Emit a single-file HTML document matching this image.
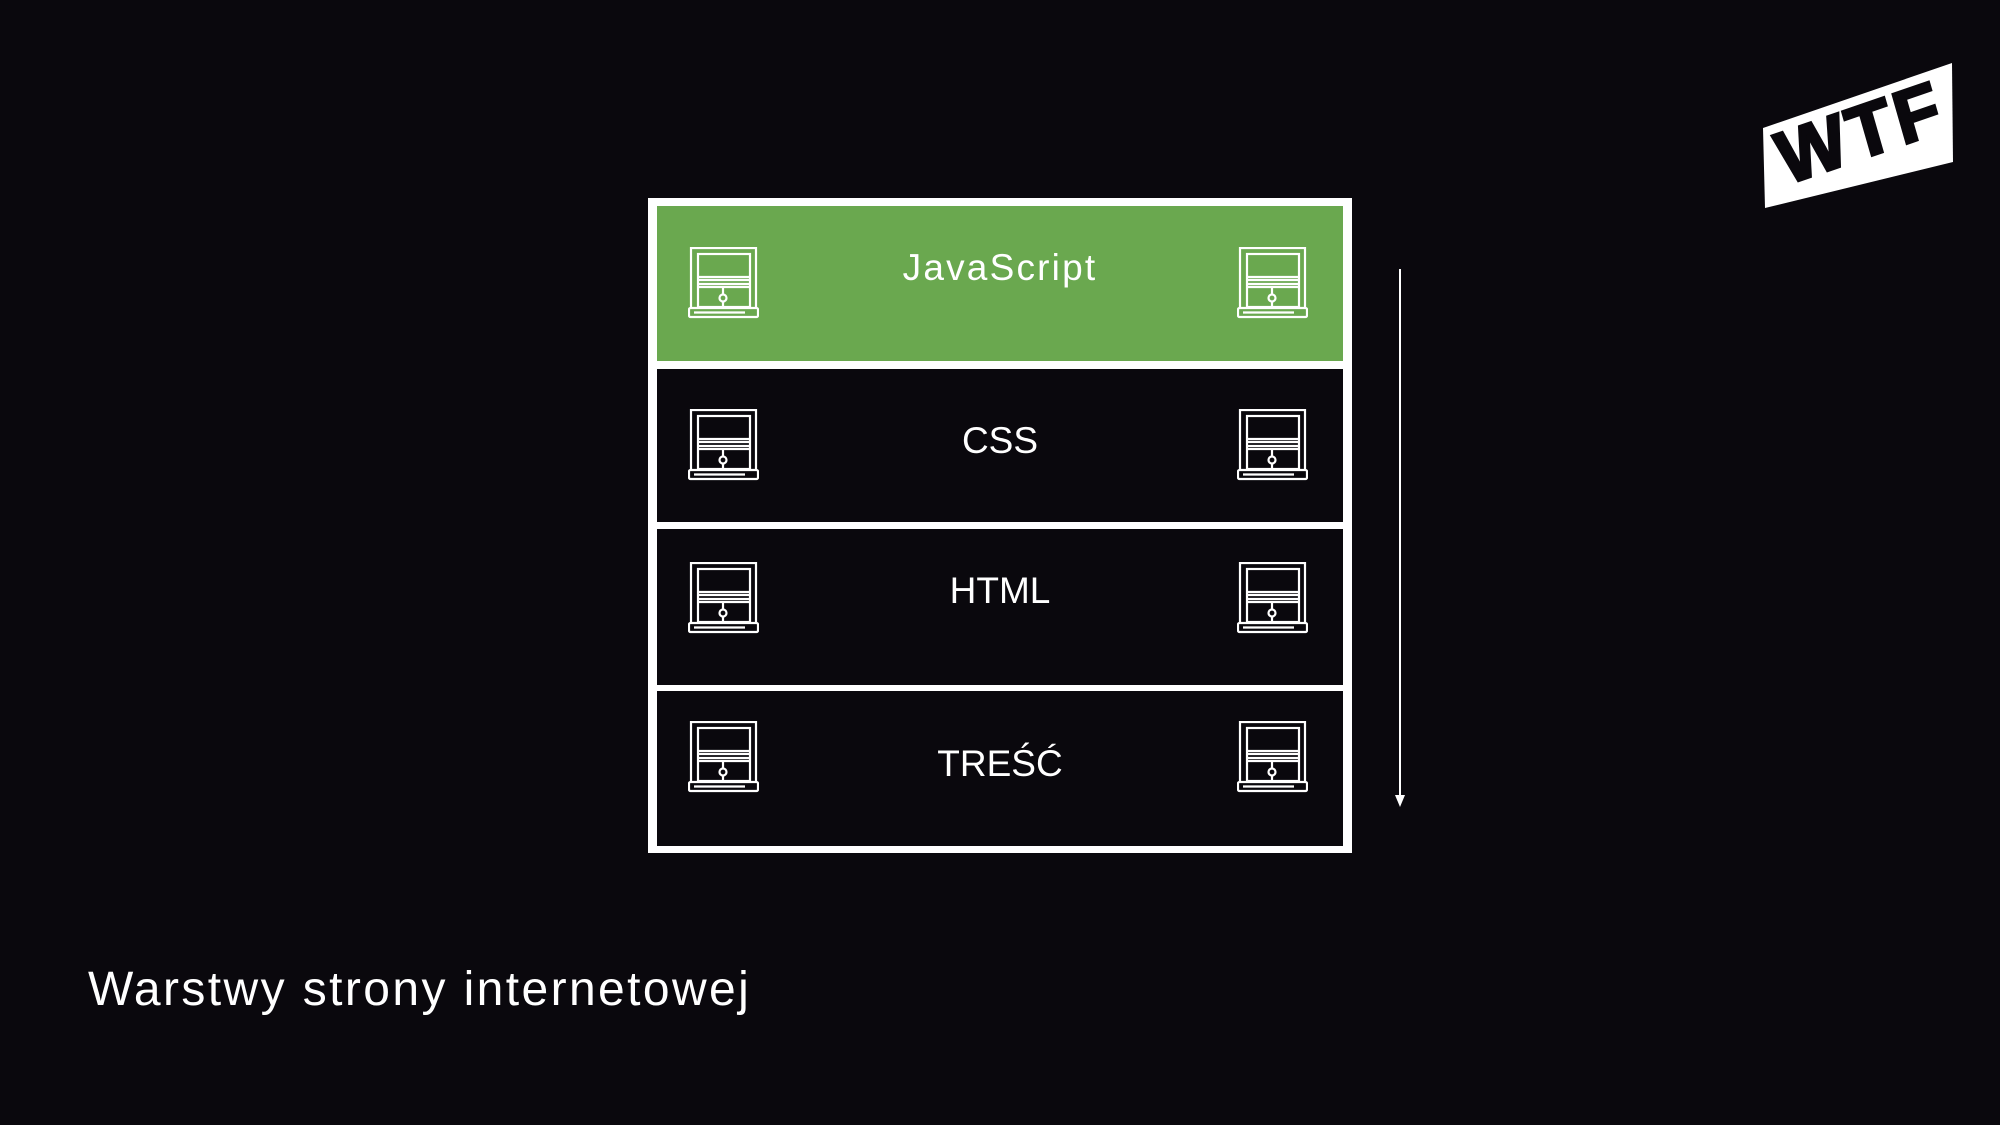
<!DOCTYPE html>
<html><head><meta charset="utf-8"><style>
html,body{margin:0;padding:0;background:#0a080d;}
body{width:2000px;height:1125px;position:relative;overflow:hidden;font-family:"Liberation Sans",sans-serif;color:#fff;}
.box{position:absolute;left:648px;top:198px;width:704px;height:655px;background:#fff;}
.row{position:absolute;left:9px;width:686px;background:#0a080d;}
.lbl{position:absolute;left:0;width:100%;text-align:center;font-size:37px;line-height:1;}
.ic{position:absolute;width:71px;height:72px;}
</style></head><body>
<svg width="0" height="0" style="position:absolute">
<defs>
<g id="ic" fill="none" stroke="#fff" stroke-width="2.2">
<path d="M3 61 V1 H68 V61"/>
<rect x="10" y="7" width="52" height="53"/>
<line x1="10" y1="30" x2="62" y2="30"/><line x1="10" y1="33" x2="62" y2="33"/>
<line x1="10" y1="37" x2="62" y2="37"/><line x1="10" y1="40" x2="62" y2="40"/>
<circle cx="35" cy="51" r="3.5"/><line x1="35" y1="40" x2="35" y2="47.5"/><line x1="35" y1="54.5" x2="35" y2="60"/>
<rect x="1" y="61" width="69" height="9" rx="1.5"/>
<line x1="6" y1="65.5" x2="57" y2="65.5"/>
</g>
</defs>
</svg>
<div class="box">
 <div class="row" style="top:8px;height:155px;background:#6aa84f"></div>
 <div class="row" style="top:171px;height:153px"></div>
 <div class="row" style="top:331px;height:156px"></div>
 <div class="row" style="top:493px;height:155px"></div>
</div>
<div class="lbl" style="top:249px;left:648px;width:704px;letter-spacing:2.2px">JavaScript</div>
<div class="lbl" style="top:422px;left:648px;width:704px">CSS</div>
<div class="lbl" style="top:572px;left:648px;width:704px">HTML</div>
<div class="lbl" style="top:745px;left:648px;width:704px">TREŚĆ</div>

<svg class="ic" style="left:688px;top:247px"><use href="#ic"/></svg>
<svg class="ic" style="left:1237px;top:247px"><use href="#ic"/></svg>
<svg class="ic" style="left:688px;top:409px"><use href="#ic"/></svg>
<svg class="ic" style="left:1237px;top:409px"><use href="#ic"/></svg>
<svg class="ic" style="left:688px;top:562px"><use href="#ic"/></svg>
<svg class="ic" style="left:1237px;top:562px"><use href="#ic"/></svg>
<svg class="ic" style="left:688px;top:721px"><use href="#ic"/></svg>
<svg class="ic" style="left:1237px;top:721px"><use href="#ic"/></svg>

<svg style="position:absolute;left:1390px;top:265px" width="20" height="550">
<line x1="10" y1="4" x2="10" y2="532" stroke="#fff" stroke-width="2"/>
<polygon points="5,530 15,530 10,542" fill="#fff"/>
</svg>

<svg style="position:absolute;left:1750px;top:55px" width="220" height="170">
<polygon points="13,73 202,8 203,107 15,153" fill="#fff"/>
<text x="0" y="0" transform="translate(36,130) rotate(-19) skewX(-3)" font-family="Liberation Sans" font-weight="bold" font-size="74" fill="#0a080d" stroke="#0a080d" stroke-width="3" letter-spacing="4">WTF</text>
</svg>

<div style="position:absolute;left:88px;top:966px;font-size:48px;line-height:1;letter-spacing:2.4px">Warstwy strony internetowej</div>
</body></html>
